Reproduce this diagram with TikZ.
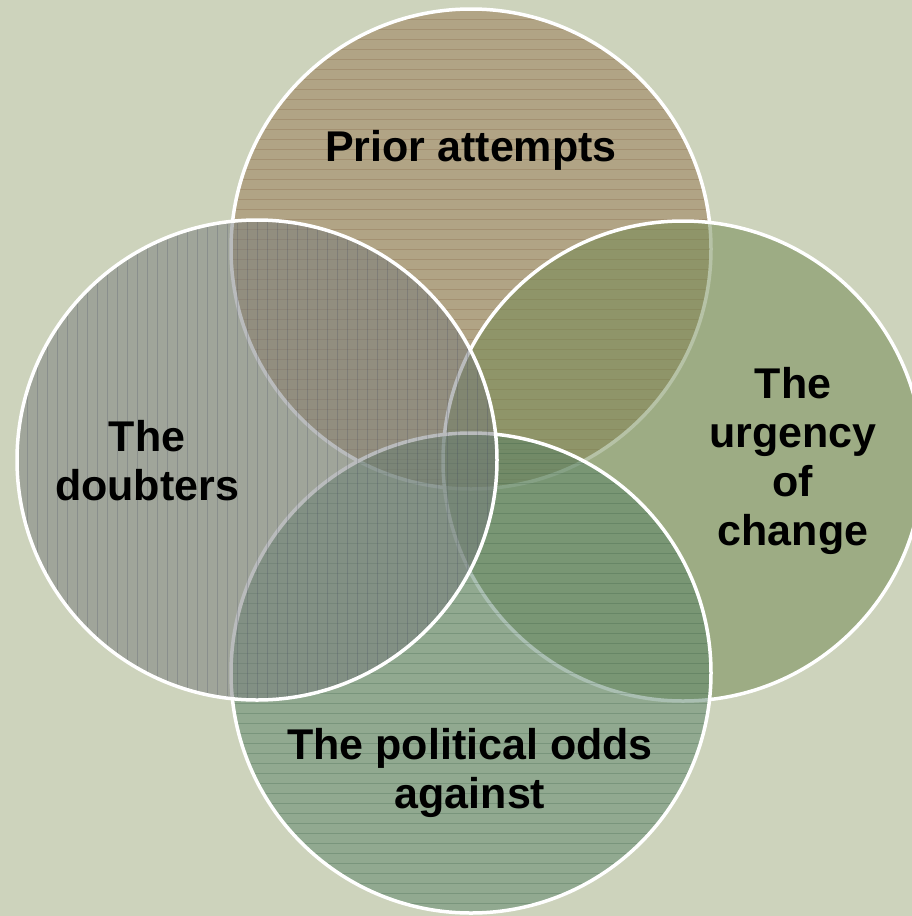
\documentclass[tikz,border=0pt]{standalone}
\usepackage{fontspec}
\setmainfont{Liberation Sans}
\definecolor{bgc}{RGB}{205,211,188}
\definecolor{topc}{RGB}{151,119,80}
\definecolor{topl}{RGB}{120,80,50}
\definecolor{leftc}{RGB}{117,121,122}
\definecolor{leftl}{RGB}{60,65,95}
\definecolor{rightc}{RGB}{111,135,78}
\definecolor{botc}{RGB}{87,129,102}
\definecolor{botl}{RGB}{40,80,55}
\tikzset{
  lbl/.style={font=\fontsize{43}{49}\selectfont\bfseries, align=center, text=black, inner sep=0pt},
  rim/.style={draw=white, line width=3.5pt},
  hatch/.style={line width=0.9pt, draw opacity=0.22},
}
\newcommand{\vennfill}[2]{%
  \fill[#2, fill opacity=0.5] #1 circle[radius=240];
}
\newcommand{\vennlines}[3]{%
  \begin{scope}[shift={#1}, rotate=#2]
    \clip (0,0) circle[radius=240];
    \foreach \k in {-24,...,24} \draw[hatch, #3] (-240,\k*10) -- (240,\k*10);
  \end{scope}
}
\newcommand{\vennrim}[1]{\draw[rim] #1 circle[radius=240];}
\begin{document}
\begin{tikzpicture}[x=1pt,y=-1pt]
\fill[bgc] (0,0) rectangle (912,916);
\useasboundingbox (0,0) rectangle (912,916);
\clip (0,0) rectangle (912,916);
% top
\vennfill{(471,249)}{topc}\vennlines{(471,249)}{0}{topl}\vennrim{(471,249)}
% right
\vennfill{(683,461)}{rightc}\vennrim{(683,461)}
% bottom
\vennfill{(471,673)}{botc}\vennlines{(471,673)}{0}{botl}\vennrim{(471,673)}
% left
\vennfill{(257,460)}{leftc}\vennlines{(257,460)}{90}{leftl}\vennrim{(257,460)}
\node[lbl] (prior) at (471,150) {Prior attempts};
\node[lbl] (doubt) at (147,461) {The\\doubters};
\node[lbl] (urg) at (793,461) {The\\urgency\\of\\change};
\node[lbl] (pol) at (470,773) {The political odds\\against};
\end{tikzpicture}
\end{document}
